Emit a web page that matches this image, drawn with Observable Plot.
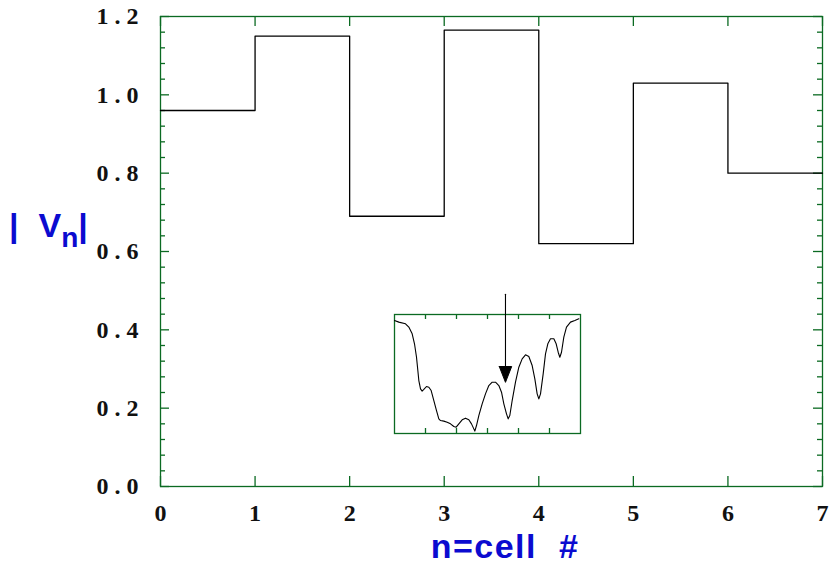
<!DOCTYPE html>
<html>
<head>
<meta charset="utf-8">
<script src="https://cdn.jsdelivr.net/npm/d3@7"></script>
<script src="https://cdn.jsdelivr.net/npm/@observablehq/plot@0.6"></script>
<style>
  html, body { margin: 0; padding: 0; background: #fff; }
  #wrap { position: relative; width: 831px; height: 567px; overflow: hidden; }
  #main, #inset { position: absolute; }
  #main { left: 0; top: 0; }
  #inset { left: 393px; top: 290px; }
  #inset svg { overflow: visible; }
  .lab { position: absolute; font-family: "Liberation Sans", Arial, sans-serif; font-weight: bold; color: #0b0bd0; white-space: nowrap; }
</style>
</head>
<body>
<div id="wrap">
  <div id="main"></div>
  <div id="inset"></div>
  <div class="lab" id="ylab" style="left:9px;top:205px;font-size:34px;line-height:40px">|<span style="margin-left:20px">V</span><span style="font-size:28px;position:relative;top:10px">n</span>|</div>
  <div class="lab" id="xlab" style="left:0;width:1010px;text-align:center;top:526px;font-size:34px;line-height:40px;letter-spacing:1.5px">n=cell&nbsp; #</div>
</div>
<script>
// ---- main chart data ----
const cells = [0, 1, 2, 3, 4, 5, 6];
const voltage = [0.96, 1.15, 0.69, 1.165, 0.62, 1.03, 0.80];
const xTicks = [0, 1, 2, 3, 4, 5, 6, 7];
const yMajor = [0, 0.2, 0.4, 0.6, 0.8, 1.0, 1.2];
const yMinor = [0.04, 0.08, 0.12, 0.16, 0.24, 0.28, 0.32, 0.36, 0.44, 0.48, 0.52, 0.56,
                0.64, 0.68, 0.72, 0.76, 0.84, 0.88, 0.92, 0.96, 1.04, 1.08, 1.12, 1.16];

// ---- inset data ----
const insetX = [0.0, 0.14, 0.355, 0.462, 0.57, 0.645, 0.71, 0.753, 0.785, 0.839, 0.892, 0.946, 1.032, 1.108, 1.183,
  1.269, 1.355, 1.43, 1.484, 1.591, 1.699, 1.806, 1.914, 1.989, 2.075, 2.183, 2.29, 2.398, 2.484, 2.559, 2.591,
  2.645, 2.72, 2.828, 2.935, 3.043, 3.151, 3.258, 3.366, 3.452, 3.527, 3.613, 3.667, 3.72, 3.796, 3.903, 4.011,
  4.118, 4.226, 4.333, 4.441, 4.527, 4.602, 4.656, 4.71, 4.796, 4.871, 4.946, 5.032, 5.14, 5.215, 5.28, 5.333,
  5.387, 5.462, 5.548, 5.677, 5.817, 5.946];
const insetY = [0.95, 0.936, 0.922, 0.894, 0.838, 0.754, 0.641, 0.529, 0.445, 0.375, 0.356, 0.370, 0.395, 0.389, 0.361,
  0.277, 0.193, 0.123, 0.109, 0.104, 0.095, 0.081, 0.059, 0.053, 0.081, 0.115, 0.129, 0.115, 0.081, 0.039, 0.020,
  0.067, 0.151, 0.249, 0.333, 0.403, 0.431, 0.431, 0.403, 0.347, 0.249, 0.165, 0.123, 0.151, 0.277, 0.431, 0.557,
  0.627, 0.661, 0.647, 0.571, 0.459, 0.333, 0.291, 0.333, 0.501, 0.669, 0.754, 0.796, 0.796, 0.754, 0.683, 0.641,
  0.683, 0.810, 0.894, 0.936, 0.950, 0.964];
const insetTicks = [1, 2, 3, 4, 5];
const arrowX = 3.58, arrowTop = 1.17, arrowHeadBase = 0.563, arrowTip = 0.43, arrowHalf = 0.2;

const green = "#0b6a22";
const tickFont = {fontFamily: "Liberation Serif, Times New Roman, serif", fontWeight: "bold", fontSize: 24, fill: "#111"};
const tickStyle = {stroke: green, strokeWidth: 1.3};

// layout
const W = 831, H = 567, mL = 160, mR = 9, mT = 16, mB = 81;
const iw = W - mL - mR, ih = H - mT - mB;

// step points
const steps = cells.map((c, i) => ({x: c, y: voltage[i]}));
steps.push({x: xTicks[xTicks.length - 1], y: voltage[voltage.length - 1]});

const fmtY = v => v.toFixed(1).split("").join(" ");

const main = Plot.plot({
  width: W,
  height: H,
  marginLeft: mL,
  marginRight: mR,
  marginTop: mT,
  marginBottom: mB,
  x: {domain: [0, 7], axis: null},
  y: {domain: [0, 1.2], axis: null},
  marks: [
    // inward ticks on all four sides
    Plot.tickY(yMajor, {y: d => d, insetRight: iw - 9, ...tickStyle}),
    Plot.tickY(yMinor, {y: d => d, insetRight: iw - 5, ...tickStyle}),
    Plot.tickY(yMajor, {y: d => d, insetLeft: iw - 9, ...tickStyle}),
    Plot.tickY(yMinor, {y: d => d, insetLeft: iw - 5, ...tickStyle}),
    Plot.tickX(xTicks, {x: d => d, insetTop: ih - 10, ...tickStyle}),
    Plot.tickX(xTicks, {x: d => d, insetBottom: ih - 10, ...tickStyle}),
    Plot.frame({stroke: green, strokeWidth: 1.3}),
    Plot.text(yMajor, {y: d => d, text: fmtY, frameAnchor: "left", dx: -22, textAnchor: "end", lineAnchor: "middle", ...tickFont}),
    Plot.text(xTicks, {x: d => d, text: d => String(d), frameAnchor: "bottom", dy: 27, lineAnchor: "middle", ...tickFont}),
    Plot.line(steps, {x: "x", y: "y", curve: "step-after", stroke: "black", strokeWidth: 1.3})
  ]
});
document.getElementById("main").appendChild(main);

// inset
const IW = 188, IH = 144, imL = 1, imR = 1, imT = 24, imB = 1;
const iih = IH - imT - imB;
const curve = insetX.map((x, i) => ({x, y: insetY[i]}));
const shaft = [{x: arrowX, y: arrowTop}, {x: arrowX, y: arrowHeadBase}];
const head = [
  {x: arrowX - arrowHalf, y: arrowHeadBase},
  {x: arrowX + arrowHalf, y: arrowHeadBase},
  {x: arrowX, y: arrowTip},
  {x: arrowX - arrowHalf, y: arrowHeadBase}
];
const inset = Plot.plot({
  width: IW,
  height: IH,
  marginLeft: imL,
  marginRight: imR,
  marginTop: imT,
  marginBottom: imB,
  x: {domain: [0, 6], axis: null},
  y: {domain: [0, 1], axis: null},
  style: {background: "transparent", overflow: "visible"},
  marks: [
    Plot.tickX(insetTicks, {x: d => d, insetTop: iih - 5, ...tickStyle}),
    Plot.tickX(insetTicks, {x: d => d, insetBottom: iih - 5, ...tickStyle}),
    Plot.frame({stroke: green, strokeWidth: 1.3}),
    Plot.line(curve, {x: "x", y: "y", stroke: "black", strokeWidth: 1.1}),
    Plot.line(shaft, {x: "x", y: "y", stroke: "black", strokeWidth: 1.1}),
    Plot.line(head, {x: "x", y: "y", stroke: "black", fill: "black", strokeWidth: 1})
  ]
});
document.getElementById("inset").appendChild(inset);
</script>
</body>
</html>
